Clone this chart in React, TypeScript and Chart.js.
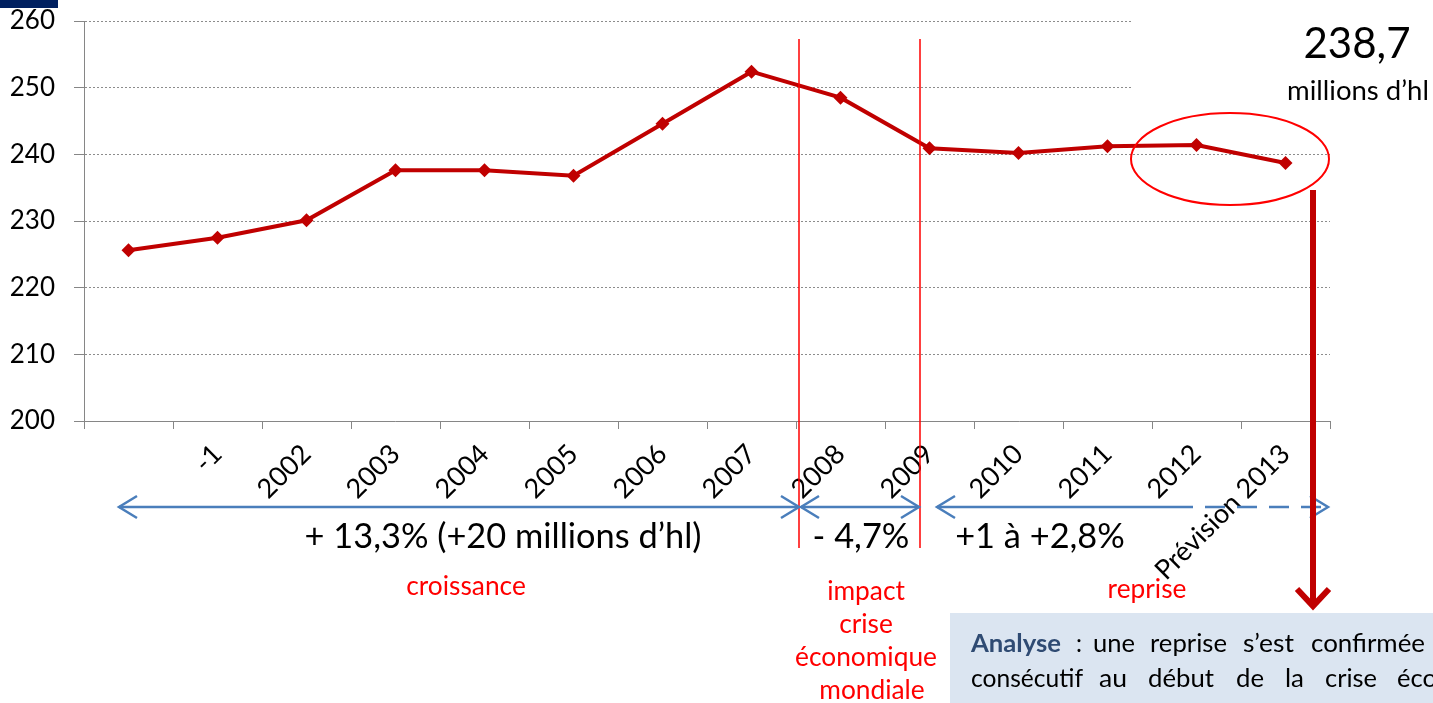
import React, { useEffect, useRef } from "react";
import { Chart, registerables } from "chart.js";

Chart.register(...registerables);

const categories = ["", "-1", "2002", "2003", "2004", "2005", "2006", "2007", "2008", "2009", "2010", "2011", "2012", "Prévision 2013"];
const production = [225.6, 227.5, 230.1, 237.6, 237.6, 236.8, 244.6, 252.4, 248.5, 240.9, 240.2, 241.2, 241.4, 238.7];
const yMin = 200;
const yMax = 260;
const yStep = 10;

const FONT = "Lato, 'Open Sans', sans-serif";

function fitFont(ctx: CanvasRenderingContext2D, text: string, width: number, weight = "normal") {
  ctx.font = `${weight} 100px ${FONT}`;
  const w = ctx.measureText(text).width;
  const size = (100 * width) / w;
  return `${weight} ${size.toFixed(2)}px ${FONT}`;
}

function drawWord(ctx: CanvasRenderingContext2D, text: string, x: number, y: number, width: number) {
  const m = ctx.measureText(text).width;
  ctx.save();
  ctx.translate(x, y);
  ctx.scale(width / m, 1);
  ctx.fillText(text, 0, 0);
  ctx.restore();
}

function chevron(ctx: CanvasRenderingContext2D, tipX: number, tipY: number, dir: number, back: number, spread: number) {
  ctx.beginPath();
  ctx.moveTo(tipX - dir * back, tipY - spread);
  ctx.lineTo(tipX, tipY);
  ctx.lineTo(tipX - dir * back, tipY + spread);
  ctx.stroke();
}

const coverPlugin = {
  id: "cover",
  beforeDatasetsDraw(chart: any) {
    const ctx = chart.ctx as CanvasRenderingContext2D;
    ctx.save();
    ctx.fillStyle = "#ffffff";
    ctx.fillRect(1132, 0, 301, 110);
    ctx.restore();
  },
};

const overlayPlugin = {
  id: "overlay",
  afterDraw(chart: any) {
    const ctx = chart.ctx as CanvasRenderingContext2D;
    ctx.save();

    // navy bar top-left
    ctx.fillStyle = "#002060";
    ctx.fillRect(0, 0, 58, 8);

    // red vertical separators
    ctx.strokeStyle = "#FF0000";
    ctx.lineWidth = 1.5;
    [799, 920].forEach((x) => {
      ctx.beginPath();
      ctx.moveTo(x, 39);
      ctx.lineTo(x, 548);
      ctx.stroke();
    });

    // ellipse
    ctx.lineWidth = 2;
    ctx.beginPath();
    ctx.ellipse(1230, 159, 99, 46, 0, 0, Math.PI * 2);
    ctx.stroke();

    // blue arrows
    ctx.strokeStyle = "#4A7EBB";
    ctx.lineWidth = 2.5;
    ctx.lineJoin = "miter";
    const ay = 507;
    ctx.beginPath();
    ctx.moveTo(119, ay);
    ctx.lineTo(799, ay);
    ctx.stroke();
    chevron(ctx, 119, ay, -1, 18, 11);
    chevron(ctx, 799, ay, 1, 18, 11);
    ctx.beginPath();
    ctx.moveTo(801, ay);
    ctx.lineTo(919, ay);
    ctx.stroke();
    chevron(ctx, 801, ay, -1, 18, 11);
    chevron(ctx, 919, ay, 1, 18, 11);
    ctx.beginPath();
    ctx.moveTo(937, ay);
    ctx.lineTo(1193, ay);
    ctx.stroke();
    ctx.setLineDash([20, 12]);
    ctx.beginPath();
    ctx.moveTo(1205, ay);
    ctx.lineTo(1326, ay);
    ctx.stroke();
    ctx.setLineDash([]);
    chevron(ctx, 937, ay, -1, 18, 11);
    chevron(ctx, 1328, ay, 1, 18, 11);

    // big red arrow
    ctx.strokeStyle = "#C00000";
    ctx.lineWidth = 6;
    ctx.beginPath();
    ctx.moveTo(1313, 190);
    ctx.lineTo(1313, 604);
    ctx.stroke();
    ctx.beginPath();
    ctx.moveTo(1297, 589);
    ctx.lineTo(1313, 606);
    ctx.lineTo(1329, 589);
    ctx.stroke();

    // top-right value
    ctx.fillStyle = "#000000";
    ctx.textAlign = "center";
    ctx.textBaseline = "alphabetic";
    ctx.font = fitFont(ctx, "238,7", 107);
    ctx.fillText("238,7", 1357, 58);
    ctx.font = fitFont(ctx, "millions d’hl", 142);
    ctx.fillText("millions d’hl", 1358, 100);

    // percentages
    ctx.font = fitFont(ctx, "+ 13,3% (+20 millions d’hl)", 397);
    ctx.fillText("+ 13,3% (+20 millions d’hl)", 503, 548);
    ctx.fillText("- 4,7%", 861, 548);
    ctx.fillText("+1 à +2,8%", 1040, 548);

    // red captions
    ctx.fillStyle = "#FF0000";
    ctx.font = fitFont(ctx, "économique", 142);
    ctx.fillText("croissance", 466, 595);
    ctx.fillText("impact", 866, 600);
    ctx.fillText("crise", 866, 633);
    ctx.fillText("économique", 866, 666);
    ctx.fillText("mondiale", 872, 699);
    ctx.fillText("reprise", 1147, 598);

    // analysis box
    ctx.fillStyle = "#DBE5F1";
    ctx.fillRect(950, 613, 483, 90);
    ctx.textAlign = "left";
    ctx.font = `bold 25px ${FONT}`;
    ctx.fillStyle = "#2F4B73";
    drawWord(ctx, "Analyse", 971, 652, 90);
    ctx.font = `normal 25px ${FONT}`;
    ctx.fillStyle = "#000000";
    const line1: [string, number, number][] = [[":", 1076, 6], ["une", 1093, 42], ["reprise", 1150, 77], ["s’est", 1243, 51], ["confirmée", 1311, 114]];
    line1.forEach(([w, x, wd]) => drawWord(ctx, w, x, 652, wd));
    const line2: [string, number, number][] = [["consécutif", 971, 112], ["au", 1099, 28], ["début", 1148, 66], ["de", 1236, 28], ["la", 1285, 19], ["crise", 1325, 52], ["économique", 1397, 138]];
    line2.forEach(([w, x, wd]) => drawWord(ctx, w, x, 687, wd));
    const line3: [string, number, number][] = [["financière", 971, 108], ["et", 1100, 22], ["consolidée", 1145, 118], ["depuis", 1285, 72]];
    line3.forEach(([w, x, wd]) => drawWord(ctx, w, x, 722, wd));

    ctx.restore();
  },
};

export default function App() {
  const ref = useRef<HTMLCanvasElement | null>(null);

  useEffect(() => {
    if (!ref.current) return;
    const chart = new Chart(ref.current, {
      type: "line",
      data: {
        labels: categories,
        datasets: [
          {
            data: production,
            borderColor: "#C00000",
            backgroundColor: "#C00000",
            borderWidth: 4,
            pointStyle: "rectRot",
            pointRadius: 7,
            pointBorderWidth: 0,
            pointBackgroundColor: "#C00000",
            tension: 0,
          },
        ],
      },
      options: {
        animation: false,
        responsive: false,
        devicePixelRatio: 1,
        layout: { padding: { left: 0, top: 21, right: 103, bottom: 0 } },
        plugins: { legend: { display: false }, tooltip: { enabled: false } },
        scales: {
          x: {
            type: "category",
            offset: true,
            grid: {
              offset: true,
              drawOnChartArea: false,
              drawTicks: true,
              tickLength: 8,
              tickColor: "#868686",
            },
            border: { display: true, color: "#868686", width: 1 },
            ticks: {
              autoSkip: false,
              maxRotation: 45,
              minRotation: 45,
              padding: 9,
              color: "#000000",
              font: { family: FONT, size: 27 },
            },
            afterFit(scale: any) {
              scale.height = 282;
              scale.paddingLeft = 0;
              scale.paddingRight = 0;
              scale.paddingTop = 0;
            },
          },
          y: {
            min: yMin,
            max: yMax,
            ticks: {
              stepSize: yStep,
              padding: 19,
              color: "#000000",
              font: { family: FONT, size: 26 },
            },
            grid: {
              color: "#8C8C8C",
              lineWidth: 1,
              tickLength: 10,
              tickColor: "#868686",
              tickBorderDash: [],
            } as any,
            border: { display: true, color: "#868686", width: 1, dash: [2, 2] } as any,
            afterFit(scale: any) {
              scale.width = 84;
              scale.paddingTop = 0;
              scale.paddingBottom = 0;
            },
          },
        },
      },
      plugins: [coverPlugin, overlayPlugin],
    } as any);
    return () => chart.destroy();
  }, []);

  return (
    <canvas
      ref={ref}
      width={1433}
      height={703}
      style={{ position: "fixed", left: 0, top: 0, width: 1433, height: 703, background: "#ffffff" }}
    />
  );
}
